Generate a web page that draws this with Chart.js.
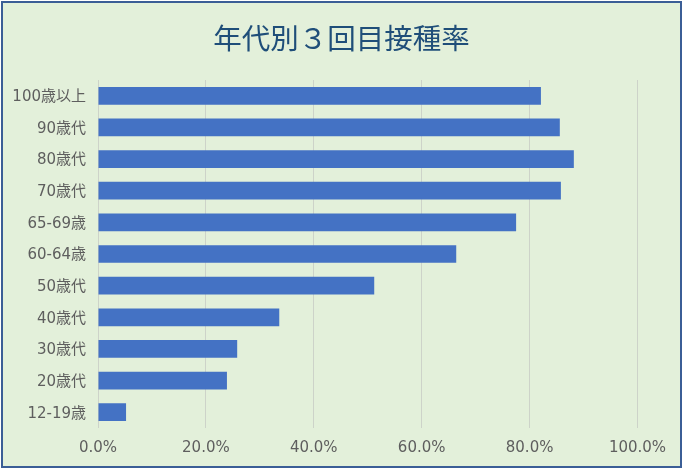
<!DOCTYPE html>
<html>
<head>
<meta charset="utf-8">
<script src="https://cdn.jsdelivr.net/npm/chart.js@4/dist/chart.umd.min.js"></script>
<style>
  html, body { margin: 0; padding: 0; background: #ffffff; }
  #wrap { width: 683px; height: 469px; position: relative; }
  canvas { display: block; }
</style>
</head>
<body>
<div id="wrap"><canvas id="c" width="683" height="469"></canvas></div>
<script>
const titleText = '年代別３回目接種率';
const categories = ['100歳以上', '90歳代', '80歳代', '70歳代', '65-69歳', '60-64歳', '50歳代', '40歳代', '30歳代', '20歳代', '12-19歳'];
const rates = [82.1, 85.6, 88.2, 85.8, 77.5, 66.4, 51.2, 33.6, 25.8, 23.9, 5.2];
const xTicks = [0, 20, 40, 60, 80, 100];

const frame = {
  id: 'frame',
  beforeDraw(chart) {
    const ctx = chart.ctx;
    ctx.save();
    ctx.fillStyle = '#ffffff';
    ctx.fillRect(0, 0, chart.width, chart.height);
    ctx.fillStyle = '#E3F0DA';
    ctx.fillRect(1, 1, chart.width - 2, chart.height - 2);
    ctx.strokeStyle = '#3B5E96';
    ctx.lineWidth = 2;
    ctx.strokeRect(2, 2, chart.width - 4, chart.height - 4);
    ctx.restore();
  },
  afterLayout(chart) {
    const t = chart.titleBlock;
    if (t) { t.left = 0; t.right = chart.width; t.width = chart.width; }
  }
};

const tickFont = { family: '"DejaVu Sans", "Noto Sans CJK JP", sans-serif', size: 15 };

new Chart(document.getElementById('c'), {
  type: 'bar',
  data: {
    labels: categories,
    datasets: [{
      data: rates,
      backgroundColor: '#4472C4',
      borderWidth: 0,
      categoryPercentage: 1,
      barPercentage: 0.56
    }]
  },
  plugins: [frame],
  options: {
    indexAxis: 'y',
    responsive: false,
    animation: false,
    devicePixelRatio: 1,
    layout: { padding: { left: 0, right: 45.5, top: 0, bottom: 0 } },
    plugins: {
      legend: { display: false },
      tooltip: { enabled: false },
      title: {
        display: true,
        text: titleText,
        color: '#1F4E79',
        font: { family: '"Noto Sans CJK JP", sans-serif', size: 28.5, weight: 'normal', lineHeight: 1.2 },
        padding: { top: 21, bottom: 24.8 }
      }
    },
    scales: {
      x: {
        min: 0,
        max: 100,
        afterBuildTicks(scale) { scale.ticks = xTicks.map(v => ({ value: v })); },
        afterFit(scale) { scale.height = 41; },
        grid: { color: '#CDD3C9', drawTicks: false, lineWidth: 1 },
        border: { display: false },
        ticks: {
          padding: 11,
          color: '#5E5E5E',
          font: tickFont,
          callback: v => v.toFixed(1) + '%'
        }
      },
      y: {
        afterFit(scale) { scale.width = 98; },
        grid: { display: false, drawTicks: false },
        border: { display: false },
        ticks: {
          padding: 12,
          labelOffset: 1.5,
          color: '#5E5E5E',
          font: tickFont
        }
      }
    }
  }
});
</script>
</body>
</html>
